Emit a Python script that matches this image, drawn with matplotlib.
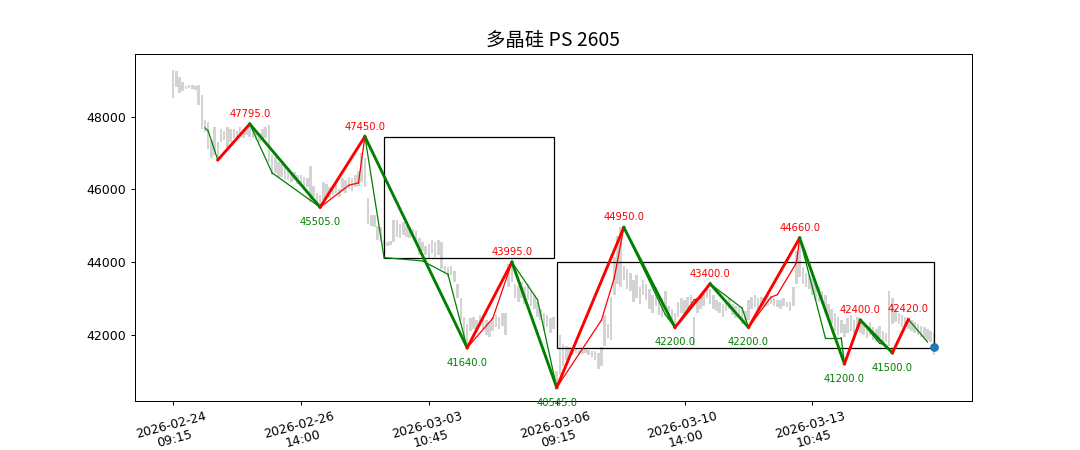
import matplotlib
matplotlib.use("Agg")
import matplotlib.pyplot as plt
from matplotlib.patches import Rectangle

title = "多晶硅 PS 2605"

# 15-minute bars, ranges (low / high), bar index 0..238
bar_low = [
    48500, 48800, 48650, 48700, 48750, 48780, 48760, 48740, 48330, 47650,
    47580, 47100, 46850, 46950, 46820, 47300, 47350, 47100, 47300, 47400,
    47350, 47450, 47400, 47500, 47450, 47400, 47350, 47300, 47350, 47400,
    46750, 46400, 46450, 46300, 46350, 46280, 46250, 46200, 46250, 46150,
    46100, 46000, 46050, 45650, 45800, 45550, 45520, 45700, 45800, 45750,
    45850, 45900, 45800, 45950, 45900, 46000, 45950, 46050, 46100, 46200,
    46050, 45050, 45000, 44950, 44600, 44580, 44450, 44450, 44480, 44550,
    44700, 44650, 44750, 44700, 44650, 44700, 44550, 44200, 44300, 44200,
    44100, 44250, 44150, 44200, 43800, 43700, 43600, 43650, 43450, 43000,
    42400, 41950, 41700, 42100, 42150, 42100, 42200, 42150, 42000, 41950,
    42100, 42200, 42150, 42250, 41980, 43300, 43450, 43000, 42900, 43000,
    42850, 42950, 42800, 42700, 42500, 42400, 42100, 42200, 42050, 42150,
    40600, 40900, 41150, 41300, 41400, 41450, 41500, 41450, 41480, 41500,
    41450, 41400, 41300, 41050, 41150, 41700, 41900, 41850, 43100, 43400,
    43300, 43500, 43250, 43200, 42900, 43000, 42850, 43100, 42950, 42700,
    42600, 42800, 42550, 42500, 42700, 42400, 42300, 42250, 42500, 42600,
    42550, 42700, 42800, 41700, 42600, 42700, 42800, 43000, 42850, 42700,
    42650, 42600, 42500, 42650, 42700, 42550, 42450, 42500, 42300, 42350,
    42400, 42700, 42750, 42700, 42800, 42750, 42800, 42850, 42800, 42750,
    42700, 42800, 42750, 42650, 42800, 43400, 43600, 43400, 43300, 43250,
    43100, 42950, 42900, 42850, 42600, 42500, 42300, 42100, 42000, 42050,
    41950, 42050, 42100, 42000, 42150, 42050, 42000, 41900, 42000, 41850,
    41800, 41900, 41750, 41800, 41700, 42300, 42350, 42300, 42200, 42250,
    42150, 42100, 42050, 42000, 41950, 41900, 41850, 41800, 41450,
]
bar_high = [
    49280, 49250, 49100, 48950, 48850, 48870, 48880, 48850, 48870, 48600,
    47900, 47850, 47350, 47700, 47300, 47650, 47600, 47700, 47650, 47650,
    47600, 47700, 47650, 47750, 47780, 47650, 47600, 47550, 47650, 47700,
    47780, 46950, 46900, 46750, 46700, 46600, 46550, 46450, 46480, 46400,
    46380, 46350, 46300, 46650, 46100, 45900, 45850, 46200, 46150, 46050,
    46100, 46200, 46000, 46300, 46250, 46350, 46300, 46400, 46500, 47000,
    46850, 45750, 45300, 45280, 45000, 44950, 44600, 44550, 44580, 45150,
    45150, 45050, 45100, 45000, 44950, 44900, 44850, 44650, 44550, 44450,
    44500, 44600, 44550, 44600, 44550, 43900, 43850, 43900, 43750, 43400,
    43000, 42500, 42300, 42450, 42500, 42400, 42550, 42450, 42400, 42350,
    42450, 42550, 42500, 42600, 42610, 43950, 44000, 43400, 43350, 43450,
    43300, 43400, 43200, 43100, 42900, 42700, 42600, 42550, 42450, 42500,
    41000, 42000, 41750, 41700, 41650, 41600, 41620, 41580, 41600, 41620,
    41580, 41550, 41550, 41500, 41650, 42550, 42300, 43050, 44150, 44720,
    44950, 43900, 43800, 43700, 43500, 43650, 43300, 43500, 43400, 43250,
    43100, 43300, 43050, 43000, 43200, 42800, 42700, 42600, 42900, 43000,
    42950, 43050, 43100, 42500, 42950, 43000, 43150, 43400, 43250, 43100,
    42950, 42900, 42850, 42950, 43000, 42850, 42800, 42750, 42700, 42650,
    42950, 43050, 43100, 43000, 43050, 43000, 43100, 43050, 43000, 42950,
    42950, 43000, 42900, 42900, 43300, 44300, 44600, 43850, 43700, 43650,
    43550, 43450, 43300, 43200, 43100, 42850, 42700, 42600, 42500, 42400,
    42300, 42450, 42550, 42400, 42500, 42400, 42300, 42250, 42350, 42200,
    42150, 42250, 42100, 42050, 43200, 43000, 42700, 42600, 42550, 42500,
    42450, 42400, 42350, 42300, 42250, 42200, 42150, 42100, 42050,
]

# major swings (thick) and minor strokes (thin): bar index / price
major_idx = [14, 24, 46, 60, 92, 106, 120, 141, 157, 168, 180, 196, 210, 215, 225, 230]
major_px = [46805, 47795, 45505, 47450, 41640, 43995, 40545, 44950, 42200, 43400,
            42200, 44660, 41200, 42400, 41500, 42420]

minor_idx = [10, 11, 14, 24, 31, 46, 55, 58, 60, 66, 78, 86, 92, 100, 106, 114, 120,
             134, 138, 141, 154, 157, 163, 165, 168, 178, 180, 187, 189, 195, 196,
             204, 209, 210, 215, 221, 222, 225, 230, 236]
minor_px = [47690, 47600, 46805, 47795, 46450, 45505, 46110, 46175, 47450, 44120,
            44030, 43660, 41640, 42450, 43995, 42960, 40545, 42400, 43560, 44950,
            42550, 42200, 42960, 43010, 43400, 42730, 42200, 43030, 43100, 43980,
            44660, 41920, 41920, 41200, 42400, 41760, 41740, 41500, 42420, 41800]

# boxes: (start bar, end bar, low, high)
boxes = [(66, 119, 44100, 47450), (120, 238, 41640, 43995)]

last_idx, last_px = 238, 41670

tick_pos = [0, 40, 80, 120, 160, 200]
tick_labels = ["2026-02-24\n09:15", "2026-02-26\n14:00", "2026-03-03\n10:45",
               "2026-03-06\n09:15", "2026-03-10\n14:00", "2026-03-13\n10:45"]

fig, ax = plt.subplots(figsize=(12, 5), dpi=90)

x = list(range(len(bar_low)))
heights = [h - l for h, l in zip(bar_high, bar_low)]
ax.bar(x, heights, bottom=bar_low, width=0.8, color='lightgray')

# thin strokes
for i in range(len(minor_idx) - 1):
    up = minor_px[i + 1] > minor_px[i]
    ax.plot(minor_idx[i:i + 2], minor_px[i:i + 2], color='red' if up else 'green', lw=1)

# thick swings
for i in range(len(major_idx) - 1):
    up = major_px[i + 1] > major_px[i]
    ax.plot(major_idx[i:i + 2], major_px[i:i + 2], color='red' if up else 'green', lw=2.3)

# swing labels (first low is not labelled)
for i in range(1, len(major_idx)):
    is_peak = major_px[i] > major_px[i - 1]
    if is_peak:
        ax.annotate(f"{major_px[i]:.1f}", (major_idx[i], major_px[i]), xytext=(0, 4),
                    textcoords='offset points', ha='center', va='bottom',
                    color='red', fontsize=8)
    else:
        ax.annotate(f"{major_px[i]:.1f}", (major_idx[i], major_px[i]), xytext=(0, -8),
                    textcoords='offset points', ha='center', va='top',
                    color='green', fontsize=8)

for x0, x1, lo, hi in boxes:
    ax.add_patch(Rectangle((x0, lo), x1 - x0, hi - lo, fill=False, edgecolor='black', lw=1))

ax.scatter([last_idx], [last_px], zorder=5)

ax.set_xticks(tick_pos)
ax.set_xticklabels(tick_labels, rotation=15)
ax.set_xlim(-11.9, 249.9)
ax.set_ylim(40190, 49720)
ax.set_title(title, fontsize=15.5, family=['Noto Sans CJK SC', 'DejaVu Sans'])

plt.savefig("out.png")
